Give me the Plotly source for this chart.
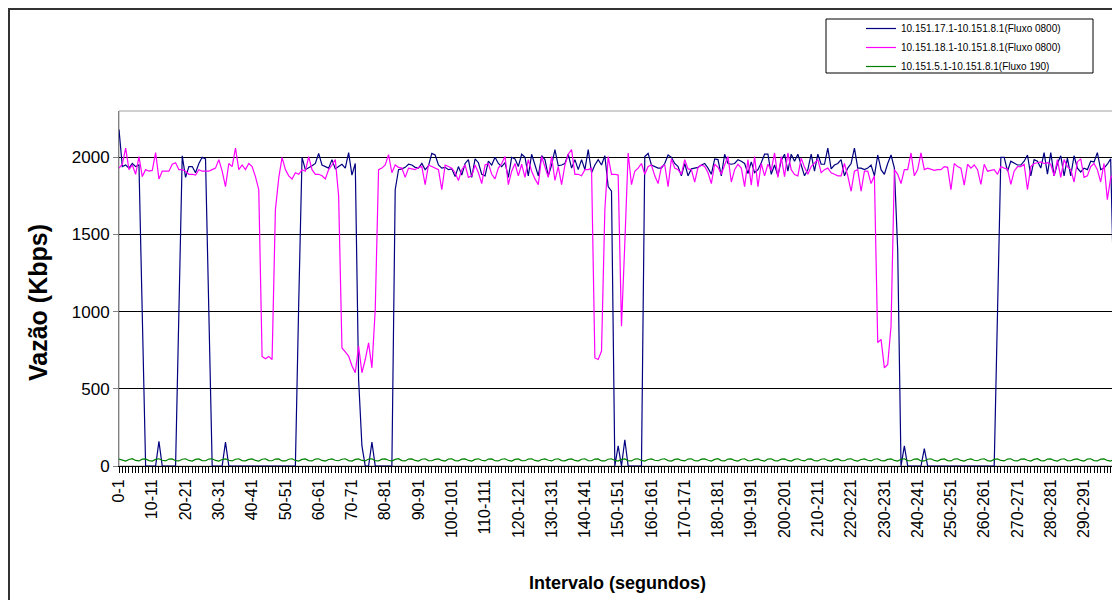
import plotly.graph_objects as go

categories = [f"{i}-{i+1}" for i in range(300)]
tick_labels = [c if i % 10 == 0 else "" for i, c in enumerate(categories)]

series_names = [
    "10.151.17.1-10.151.8.1(Fluxo 0800)",
    "10.151.18.1-10.151.8.1(Fluxo 0800)",
    "10.151.5.1-10.151.8.1(Fluxo 190)",
]

blue = [
    2180, 1940, 1950, 1930, 1960, 1940, 1950, 980, 0, 0,
    0, 0, 160, 0, 0, 0, 0, 0, 1000, 2010,
    1870, 1940, 1940, 1900, 1960, 2000, 1990, 950, 0, 0,
    0, 0, 155, 0, 0, 0, 0, 0, 0, 0,
    0, 0, 0, 0, 0, 0, 0, 0, 0, 0,
    0, 0, 0, 0, 1050, 2000, 1920, 1930, 1945, 1960,
    2025, 1950, 1940, 1930, 1985, 1925, 1940, 1955, 1930, 2030,
    1885, 1960, 560, 130, 0, 0, 155, 0, 0, 0,
    0, 0, 0, 1790, 1920, 1925, 1935, 1955, 1950, 1935,
    1930, 1960, 1920, 1945, 2025, 2015, 1950, 1930, 1935, 1920,
    1925, 1875, 1940, 1885, 1960, 1985, 1870, 1990, 1965, 1890,
    1880, 1975, 1950, 2000, 1960, 1940, 1965, 1870, 2000, 1990,
    1940, 2020, 2000, 1880, 2020, 1950, 1880, 2010, 1985, 1880,
    1950, 2050, 1945, 1950, 1960, 2020, 1930, 1985, 1920, 1985,
    1920, 2050, 1900, 1950, 1985, 1950, 2010, 1810, 1780, 0,
    130, 0, 170, 0, 0, 0, 0, 0, 2005, 2025,
    1950, 1940, 1930, 1930, 1960, 2015, 2000, 1960, 1940, 1880,
    1960, 1880, 1925, 1930, 1935, 1950, 1960, 1930, 1890, 1990,
    1985, 1880, 2020, 1960, 1955, 1960, 1985, 1975, 1960, 1895,
    1970, 1900, 1920, 1965, 2020, 2020, 1890, 1950, 1880, 1980,
    2020, 1910, 2020, 1975, 2020, 1950, 1880, 1920, 2020, 1910,
    2020, 1955, 1955, 2060, 1925, 1950, 1960, 1985, 1880, 1930,
    1960, 2060, 1930, 1930, 1920, 1930, 1950, 1880, 2015, 1920,
    1890, 1960, 2015, 1930, 1400, 0, 130, 0, 0, 0,
    0, 0, 112, 0, 0, 0, 0, 0, 0, 0,
    0, 0, 0, 0, 0, 0, 0, 0, 0, 0,
    0, 0, 0, 0, 1000, 2000, 2000, 1910, 1975, 1960,
    1950, 1950, 1975, 2015, 1880, 1985, 1975, 1930, 2030, 1890,
    2030, 1880, 1960, 2010, 1880, 1995, 1880, 2010, 1930, 1905,
    1930, 1920, 1975, 1970, 2030, 1920, 1930, 1955, 1990, 1050,
]

magenta = [
    1930, 1955, 2060, 1920, 1950, 1890, 2005, 1875, 1920, 1910,
    1915, 2030, 1860, 1910, 1910, 1910, 1955, 1965, 1920, 1920,
    1910, 1890, 1890, 1885, 1920, 1910, 1910, 1910, 1920, 1930,
    1985, 1910, 1810, 1960, 1940, 2060, 1920, 1950, 1920, 1960,
    1940, 1875, 1790, 710, 695, 710, 690, 1660, 1865, 2000,
    1920, 1880, 1860, 1900, 1890, 1920, 1910, 2005, 1920, 1890,
    1890, 1880, 1860, 1920, 1950, 1985, 1750, 765, 740, 712,
    650, 604, 777, 604, 690, 798, 636, 1014, 1920, 1930,
    1950, 2017, 1900, 1950, 1935, 1930, 1870, 1930, 1925, 1920,
    1935, 1940, 1823, 1950, 1940, 1930, 1920, 1790, 1950, 1940,
    1930, 1900, 1850, 1920, 1950, 1870, 1880, 1950, 1900, 1830,
    1950, 1960, 1890, 1860, 1930, 1960, 2005, 1823, 1910, 1960,
    1880, 1955, 1870, 1985, 1910, 1860, 1823, 2005, 1940, 1870,
    2005, 1850, 1940, 1823, 1950, 2020, 2050, 1890, 1890, 1880,
    1920, 1920, 1930, 700, 690, 745, 1660, 2005, 1890, 1890,
    1885, 906, 1445, 2028, 1823, 1910, 1930, 1960, 1890, 1940,
    1950, 1880, 1830, 1940, 1950, 1810, 1990, 1930, 1920, 1890,
    1985, 1925, 1920, 1840, 1935, 1950, 1940, 1900, 1830, 1955,
    1935, 1890, 1950, 2005, 1840, 1920, 1955, 1930, 1810, 1985,
    1820, 2005, 1810, 1960, 1880, 1955, 1915, 2028, 1870, 2005,
    1875, 2028, 1920, 1888, 1880, 1995, 1935, 1890, 1940, 1960,
    1985, 1900, 1920, 1930, 1900, 1890, 1880, 1880, 1960, 1880,
    1780, 1910, 1920, 1780, 1910, 1910, 1830, 1880, 800, 820,
    636, 658, 906, 1920, 1890, 1830, 1920, 1920, 2028, 1880,
    1920, 2028, 1920, 1930, 1920, 1915, 1920, 1920, 1940, 1935,
    1790, 1960, 1940, 1930, 1820, 1955, 1930, 1950, 1920, 1825,
    1955, 1910, 1915, 1920, 1890, 1940, 1930, 1925, 1825, 1910,
    1940, 1940, 1955, 1790, 1940, 1960, 1965, 1970, 1960, 1965,
    1955, 1880, 1985, 1870, 1985, 1940, 1920, 1840, 1970, 1990,
    1870, 1880, 1940, 1960, 1920, 1840, 1960, 1726, 1866, 1900,
]

green = [
    45, 38, 32, 42, 47, 36, 33, 44, 46, 35,
    32, 43, 47, 37, 33, 45, 46, 34, 33, 44,
    47, 36, 32, 43, 46, 35, 34, 45, 47, 36,
    32, 42, 46, 37, 33, 44, 47, 35, 33, 43,
    46, 36, 32, 44, 47, 35, 34, 45, 46, 33,
    33, 44, 47, 36, 32, 43, 46, 35, 33, 45,
    47, 36, 32, 42, 46, 37, 34, 44, 47, 35,
    32, 43, 46, 36, 33, 45, 47, 34, 33, 44,
    46, 37, 32, 43, 47, 35, 33, 45, 46, 36,
    32, 44, 47, 35, 34, 43, 46, 36, 32, 45,
    47, 35, 33, 44, 46, 36, 32, 43, 47, 37,
    33, 45, 46, 34, 33, 44, 47, 36, 32, 43,
    46, 35, 34, 45, 47, 36, 32, 42, 46, 37,
    33, 44, 47, 35, 33, 43, 46, 36, 32, 44,
    47, 35, 34, 45, 46, 33, 33, 44, 47, 36,
    32, 43, 46, 35, 33, 45, 47, 36, 32, 42,
    46, 37, 34, 44, 47, 35, 32, 43, 46, 36,
    33, 45, 47, 34, 33, 44, 46, 37, 32, 43,
    47, 35, 33, 45, 46, 36, 32, 44, 47, 35,
    34, 43, 46, 36, 32, 45, 47, 35, 33, 44,
    46, 36, 32, 43, 47, 37, 33, 45, 46, 34,
    33, 44, 47, 36, 32, 43, 46, 35, 34, 45,
    47, 36, 32, 42, 46, 37, 33, 44, 47, 35,
    33, 43, 46, 36, 32, 44, 47, 35, 34, 45,
    46, 33, 33, 44, 47, 36, 32, 43, 46, 35,
    33, 45, 47, 36, 32, 42, 46, 37, 34, 44,
    47, 35, 32, 43, 46, 36, 33, 45, 47, 34,
    33, 44, 46, 37, 32, 43, 47, 35, 33, 45,
    46, 36, 32, 44, 47, 35, 34, 43, 46, 36,
    32, 45, 47, 35, 33, 44, 46, 36, 32, 43,
]

colors = ["#000080", "#FF00FF", "#008000"]
FONT = "Arial, 'Liberation Sans', sans-serif"

fig = go.Figure()
for name, vals, col in zip(series_names, [blue, magenta, green], colors):
    fig.add_trace(go.Scatter(x=categories, y=vals, mode="lines", name=name,
                             line=dict(color=col, width=1.2)))

# page body has an 8px margin; the figure is sized/placed to compensate
OFF = 8
W, H = 1120 - OFF, 600 - OFF
L, R, T, B = 119 - OFF, 6, 111 - OFF, 134
pw, ph = W - L - R, H - T - B


def px_x(p):
    """screen x pixel -> paper fraction"""
    return (p - OFF - L) / pw


def px_y(p):
    """screen y pixel -> paper fraction"""
    return (H - B - (p - OFF)) / ph


fig.update_layout(
    width=W, height=H,
    margin=dict(l=L, r=R, t=T, b=B),
    paper_bgcolor="white", plot_bgcolor="white",
    font=dict(family=FONT, color="black"),
    showlegend=True,
    legend=dict(x=px_x(861), y=px_y(14), xanchor="left", yanchor="top",
                bgcolor="rgba(0,0,0,0)", borderwidth=0,
                font=dict(size=10, family=FONT), tracegroupgap=0),
    xaxis=dict(type="category", categoryorder="array", categoryarray=categories,
               range=[0, 299], tickmode="array", tickvals=categories,
               ticktext=tick_labels, tickangle=-90, ticks="outside", ticklen=6,
               tickcolor="black", tickwidth=1, tickfont=dict(size=16, family=FONT),
               showgrid=False, showline=True, linecolor="black", linewidth=1,
               zeroline=False),
    yaxis=dict(range=[0, 2300], tickmode="array", tickvals=[0, 500, 1000, 1500, 2000],
               ticks="outside", ticklen=5, tickcolor="#808080",
               tickfont=dict(size=17, family=FONT), showgrid=True,
               gridcolor="black", gridwidth=1, showline=True, linecolor="#808080",
               linewidth=1, zeroline=False),
    shapes=[
        dict(type="rect", xref="x domain", yref="y domain", x0=0, x1=1, y0=0, y1=1,
             line=dict(color="#a0a0a0", width=1), layer="below"),
        dict(type="rect", xref="paper", yref="paper", x0=px_x(826), x1=px_x(1093),
             y0=px_y(73), y1=px_y(19), line=dict(color="black", width=1)),
        dict(type="rect", xref="paper", yref="paper", x0=px_x(9), x1=px_x(1130),
             y0=px_y(615), y1=px_y(9), line=dict(color="#333333", width=2)),
    ],
    annotations=[
        dict(text="<b>Vazão (Kbps)</b>", xref="paper", yref="paper",
             x=px_x(38), y=px_y(303), textangle=-90, showarrow=False,
             xanchor="center", yanchor="middle", font=dict(size=25, family=FONT)),
        dict(text="<b>Intervalo (segundos)</b>", xref="paper", yref="paper",
             x=px_x(617), y=px_y(583), showarrow=False,
             xanchor="center", yanchor="middle", font=dict(size=18, family=FONT)),
    ],
)

fig.write_html("out.html")
